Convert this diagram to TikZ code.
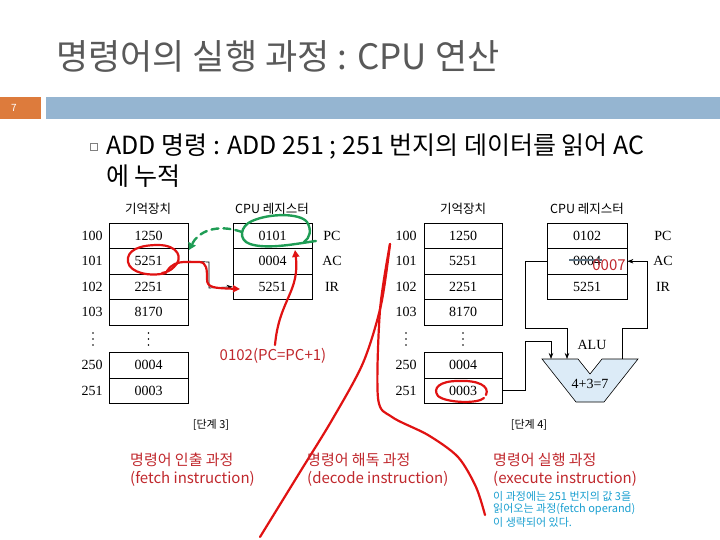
\documentclass[tikz,border=0pt]{standalone}
\usepackage{fontspec}
\setmainfont{Liberation Serif}
\newfontfamily\kr{Noto Sans CJK KR}
\usetikzlibrary{arrows.meta}
\definecolor{titlegray}{HTML}{595959}
\definecolor{barorange}{HTML}{DD7B3C}
\definecolor{barblue}{HTML}{95B5D1}
\definecolor{txtred}{HTML}{C0282D}
\definecolor{penred}{HTML}{E01212}
\definecolor{pengreen}{HTML}{1F9D55}
\definecolor{notecyan}{HTML}{1A9FD0}
\definecolor{alublue}{HTML}{DCEBF7}
\definecolor{strikegray}{HTML}{5F7585}
\begin{document}
\begin{tikzpicture}[x=1pt,y=-1pt,
  cell/.style={draw,line width=0.8pt,minimum width=79pt,minimum height=25.5pt,inner sep=0pt,font=\fontsize{14}{14}\selectfont},
  lbl/.style={inner sep=0pt,font=\fontsize{14}{14}\selectfont},
  hdr/.style={inner sep=0pt,font=\kr\fontsize{12.5}{12.5}\selectfont},
  conn/.style={line width=0.7pt},
  tip/.style={-{Stealth[length=6pt,width=4.5pt]}},
  pen/.style={penred,line width=2.2pt,line cap=round,line join=round},
  gpen/.style={pengreen,line width=2.4pt,line cap=round,line join=round},
  redtxt/.style={txtred,inner sep=0pt,font=\kr\fontsize{15}{15}\selectfont},
  notetxt/.style={notecyan,inner sep=0pt,anchor=west,font=\kr\fontsize{11}{11}\selectfont},
  vdot/.style={fill=black,radius=0.9pt},
]
\useasboundingbox (0,0) rectangle (720,540);

% ---------- header ----------
\node[anchor=west,inner sep=0pt,text=titlegray,font=\kr\fontsize{35}{35}\selectfont] (title) at (56,56) {명령어의 실행 과정 : CPU 연산};
\fill[barorange] (0,97) rectangle (41,119);
\fill[barblue] (46,97) rectangle (720,119);
\node[white,inner sep=0pt,font=\kr\fontsize{10}{10}\selectfont] (pgno) at (14,108) {7};
\node[draw=gray,line width=0.5pt,minimum size=7pt,inner sep=0pt] (bul) at (94,147) {};
\node[anchor=west,inner sep=0pt,font=\kr\fontsize{25}{25}\selectfont] (line1) at (106,147) {ADD 명령 : ADD 251 ; 251 번지의 데이터를 읽어 AC};
\node[anchor=west,inner sep=0pt,font=\kr\fontsize{25}{25}\selectfont] (line2) at (106,176) {에 누적};

% ---------- stage 3 ----------
\node[hdr] (h3m) at (148,209) {기억장치};
\node[hdr] (h3c) at (272,209) {CPU 레지스터};
\node[cell] (lm100) at (148.5,235.75) {1250};
\node[cell] (lm101) at (148.5,261.25) {5251};
\node[cell] (lm102) at (148.5,286.75) {2251};
\node[cell] (lm103) at (148.5,312.25) {8170};
\node[cell] (lm250) at (148.5,365.25) {0004};
\node[cell] (lm251) at (148.5,390.75) {0003};
\node[lbl] (la100) at (92,235.75) {100};
\node[lbl] (la101) at (92,261.25) {101};
\node[lbl] (la102) at (92,286.75) {102};
\node[lbl] (la103) at (92,312.25) {103};
\node[lbl] (la250) at (92,365.25) {250};
\node[lbl] (la251) at (92,390.75) {251};
\foreach \x in {93,148.5,406,463}{
  \foreach \y in {333,339,345}{ \fill[vdot] (\x,\y) circle; }
}
\node[cell] (lpc) at (272.5,235.75) {0101};
\node[cell] (lac) at (272.5,261.25) {0004};
\node[cell] (lir) at (272.5,286.75) {5251};
\node[lbl] (lpcl) at (332,235.75) {PC};
\node[lbl] (lacl) at (332,261.25) {AC};
\node[lbl] (lirl) at (332,286.75) {IR};
\node[inner sep=0pt,font=\kr\fontsize{11}{11}\selectfont] (st3) at (211,425) {[단계 3]};

% black transfer arrow (mostly covered)
\draw[conn,tip] (lm101.east) -- (209,262) -- (209,288) -- (lir.west);

% ---------- stage 4 ----------
\node[hdr] (h4m) at (463,209) {기억장치};
\node[hdr] (h4c) at (587,209) {CPU 레지스터};
\begin{scope}[cell/.append style={minimum width=78pt}]
\node[cell] (rm100) at (463,235.75) {1250};
\node[cell] (rm101) at (463,261.25) {5251};
\node[cell] (rm102) at (463,286.75) {2251};
\node[cell] (rm103) at (463,312.25) {8170};
\node[cell] (rm250) at (463,365.25) {0004};
\node[cell] (rm251) at (463,390.75) {0003};
\end{scope}
\node[lbl] (ra100) at (406,235.75) {100};
\node[lbl] (ra101) at (406,261.25) {101};
\node[lbl] (ra102) at (406,286.75) {102};
\node[lbl] (ra103) at (406,312.25) {103};
\node[lbl] (ra250) at (406,365.25) {250};
\node[lbl] (ra251) at (406,390.75) {251};
\begin{scope}[cell/.append style={minimum width=80pt}]
\node[cell] (rpc) at (587,235.75) {0102};
\node[cell] (rac) at (587,261.25) {0004};
\node[cell] (rir) at (587,286.75) {5251};
\end{scope}
\node[lbl] (rpcl) at (663,235.75) {PC};
\node[lbl] (racl) at (663,261.25) {AC};
\node[lbl] (rirl) at (663,286.75) {IR};
\node[inner sep=0pt,font=\kr\fontsize{11}{11}\selectfont] (st4) at (529,425) {[단계 4]};

% ALU
\filldraw[fill=alublue,draw=black,line width=0.6pt] (542,359) -- (578,359) -- (590,374) -- (602,359) -- (638,359) -- (604,402) -- (576,402) -- cycle;
\node[lbl] (alul) at (592,345) {ALU};
\node[lbl] (alus) at (590,384) {4+3=7};
\coordinate (aluin1) at (567,359);
\coordinate (aluin2) at (551,359);
\coordinate (aluout) at (622,359);
\draw[conn,tip] (rac.west) -- (525,261.25) -- (525,328) -| (aluin1);
\draw[conn,tip] (rm251.east) -| (525,341) -| (aluin2);
\draw[conn,tip] (aluout) -- (622,328) -- (647,328) |- (rac.east);

% strike-through and new AC value
\draw[strikegray,line width=2pt] (569,260) -- (602,260);
\node[txtred,inner sep=0pt,font=\kr\fontsize{15}{15}\selectfont] (ac7) at (609,265) {0007};

% ---------- hand annotations ----------
\draw[gpen] (316,241) .. controls (300,243) and (268,250) .. (250,244)
  .. controls (238,240) and (240,226) .. (252,221)
  .. controls (270,213) and (300,213) .. (307,222)
  .. controls (312,230) and (310,238) .. (304,242);
\draw[gpen,dash pattern=on 7pt off 5pt,-{Triangle[length=7pt,width=8pt]}] (242,232) .. controls (216,223) and (198,232) .. (189,250);
\draw[pen] (166,273) .. controls (150,277) and (130,273) .. (128,262)
  .. controls (126,250) and (140,245) .. (158,245)
  .. controls (178,245) and (184,258) .. (174,267)
  .. controls (170,271) and (167,272) .. (162,273);
\draw[pen,-{Triangle[length=7pt,width=7pt]}] (167,271) .. controls (172,264) and (177,262) .. (186,262)
  -- (199,262) .. controls (207,262) and (207,270) .. (207,279)
  .. controls (207,288) and (214,288) .. (240,289);
\draw[pen,-{Triangle[length=7pt,width=7pt]}] (275,345) .. controls (279,300) and (300,292) .. (295,250);
\node[redtxt] (pcinc) at (273,356) {0102(PC=PC+1)};
\draw[pen] (484,398) .. controls (478,404) and (446,403) .. (438,396)
  .. controls (432,388) and (440,381) .. (458,381)
  .. controls (478,380) and (490,386) .. (486,395);
\draw[pen] plot[smooth] coordinates {(260,537) (300,472) (332,420) (363,363) (381,305) (390,244)};
\draw[pen] plot[smooth] coordinates {(390,244) (380,310) (378,398) (392,417) (428,435) (458,457) (476,487) (485,515)};

% ---------- bottom texts ----------
\node[redtxt,anchor=west] (f1) at (130,460) {명령어 인출 과정};
\node[redtxt,anchor=west] (f2) at (130,479) {(fetch instruction)};
\node[redtxt,anchor=west] (d1) at (307,460) {명령어 해독 과정};
\node[redtxt,anchor=west] (d2) at (307,479) {(decode instruction)};
\node[redtxt,anchor=west] (e1) at (493,460) {명령어 실행 과정};
\node[redtxt,anchor=west] (e2) at (493,479) {(execute instruction)};
\node[notetxt] (n1) at (493,496) {이 과정에는 251 번지의 값 3을};
\node[notetxt] (n2) at (493,509) {읽어오는 과정(fetch operand)};
\node[notetxt] (n3) at (493,522) {이 생략되어 있다.};
\end{tikzpicture}
\end{document}
